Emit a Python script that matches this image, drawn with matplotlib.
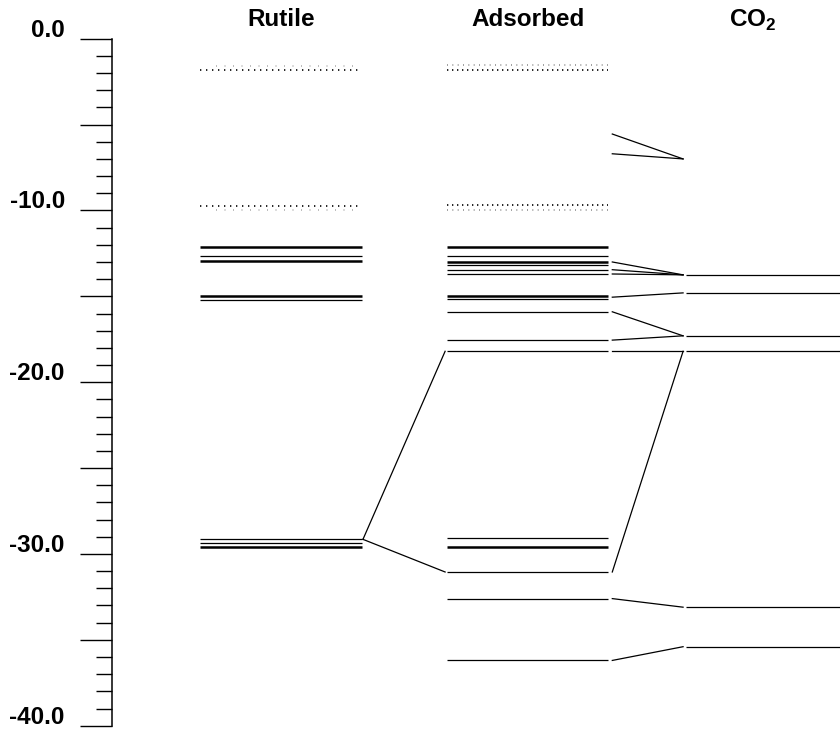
import numpy as np
import matplotlib
matplotlib.use('Agg')
import matplotlib.pyplot as plt
import matplotlib.transforms as mtransforms
from matplotlib.ticker import MultipleLocator, FuncFormatter

plt.rcParams['font.family'] = ['Liberation Sans', 'DejaVu Sans']

# energy levels in eV; a repeated value is a degenerate level (drawn thicker)
columns = ['Rutile', 'Adsorbed', 'CO$_\\mathregular{2}$']
rutile_occ = [-12.1, -12.1, -12.65, -12.95, -12.95, -15.0, -15.0, -15.2,
              -29.15, -29.35, -29.6, -29.6]
rutile_empty = [-1.85, -9.75]
rutile_empty_faint = [-1.6, -9.95]
adsorbed_occ = [-12.1, -12.1, -12.65, -13.0, -13.0, -13.2, -13.45, -13.7,
                -15.0, -15.0, -15.15, -15.9, -17.55, -18.2,
                -29.1, -29.6, -29.6, -31.05, -32.6, -36.2]
adsorbed_empty = [-1.8, -9.7]
adsorbed_empty_faint = [-1.55, -9.95]
co2_occ = [-13.75, -14.8, -17.3, -18.2, -33.1, -35.4]

# correlation lines (left level, right level)
rutile_to_ads = [(-29.15, -18.2), (-29.15, -31.05)]
ads_to_co2 = [(-5.55, -7.0), (-6.7, -7.0), (-13.0, -13.75), (-13.45, -13.75),
              (-13.7, -13.75), (-15.05, -14.8), (-15.9, -17.3), (-17.55, -17.3),
              (-18.2, -18.2), (-31.05, -18.2), (-32.6, -33.1), (-36.2, -35.4)]


def draw_levels(ax, x0, x1, levels):
    vals, counts = np.unique(levels, return_counts=True)
    for v, c in zip(vals, counts):
        ax.plot([x0, x1], [v, v], color='black', lw=0.9 * c,
                solid_capstyle='butt')


def draw_empty(ax, x0, x1, levels, color, dash):
    for v in levels:
        ax.plot([x0, x1], [v, v], color=color, lw=1.2, linestyle=(0, dash))


def draw_links(ax, xa, xb, pairs):
    for a, b in pairs:
        ax.plot([xa, xb], [a, b], color='black', lw=0.9)


fig = plt.figure(figsize=(8.4, 7.29), dpi=100)
ax = fig.add_axes([112 / 840, 3.3 / 729, 1 - 112 / 840, (725.7 - 38.7) / 729])
ax.set_xlim((112 - 200) / 162, (840 - 200) / 162)
ax.set_ylim(-40, 0)

# column x ranges (one unit = 162 px)
left = [0.0, 1.525, 3.0]
right = [1.0, 2.52, 4.2]

draw_levels(ax, left[0], right[0], rutile_occ)
draw_levels(ax, left[1], right[1], adsorbed_occ)
draw_levels(ax, left[2], right[2], co2_occ)

draw_empty(ax, left[0], right[0], rutile_empty, 'black', (0.8, 2.8))
draw_empty(ax, left[0] + 0.1, right[0] - 0.05, rutile_empty_faint, '#b0b0b0', (0.6, 4.5))
draw_empty(ax, left[1], right[1], adsorbed_empty, 'black', (0.8, 2.2))
draw_empty(ax, left[1], right[1], adsorbed_empty_faint, '#909090', (0.6, 2.6))

draw_links(ax, right[0] + 0.006, left[1] - 0.012, rutile_to_ads)
draw_links(ax, right[1] + 0.025, left[2] - 0.018, ads_to_co2)

# column headings, placed in figure coords above the axes
head_y = 1 - 20 / 729
for name, a, b in zip(columns, left, right):
    xc = (a + b) / 2 if name != columns[2] else 3.41
    xf = ax.transData.transform((xc, 0))[0] / fig.bbox.width
    fig.text(xf, head_y, name, ha='center', va='center', fontsize=17.5,
             fontweight='bold')

for s in ['top', 'right', 'bottom']:
    ax.spines[s].set_visible(False)
ax.spines['left'].set_linewidth(1.1)
ax.set_xticks([])
ax.yaxis.set_major_locator(MultipleLocator(5))
ax.yaxis.set_minor_locator(MultipleLocator(1))
ax.yaxis.set_major_formatter(FuncFormatter(
    lambda v, p: ('%.1f' % v if v != 0 else '0.0') if round(v) % 10 == 0 else ''))
ax.tick_params(axis='y', which='major', length=23, width=1.0, pad=11,
               labelsize=17.5)
ax.tick_params(axis='y', which='minor', length=11.5, width=1.0)
shift = mtransforms.ScaledTranslation(0, 2 / 100, fig.dpi_scale_trans)
for t in ax.get_yticklabels():
    t.set_fontweight('bold')
    t.set_verticalalignment('baseline')
    t.set_transform(t.get_transform() + shift)

fig.savefig('out.png', dpi=100)
